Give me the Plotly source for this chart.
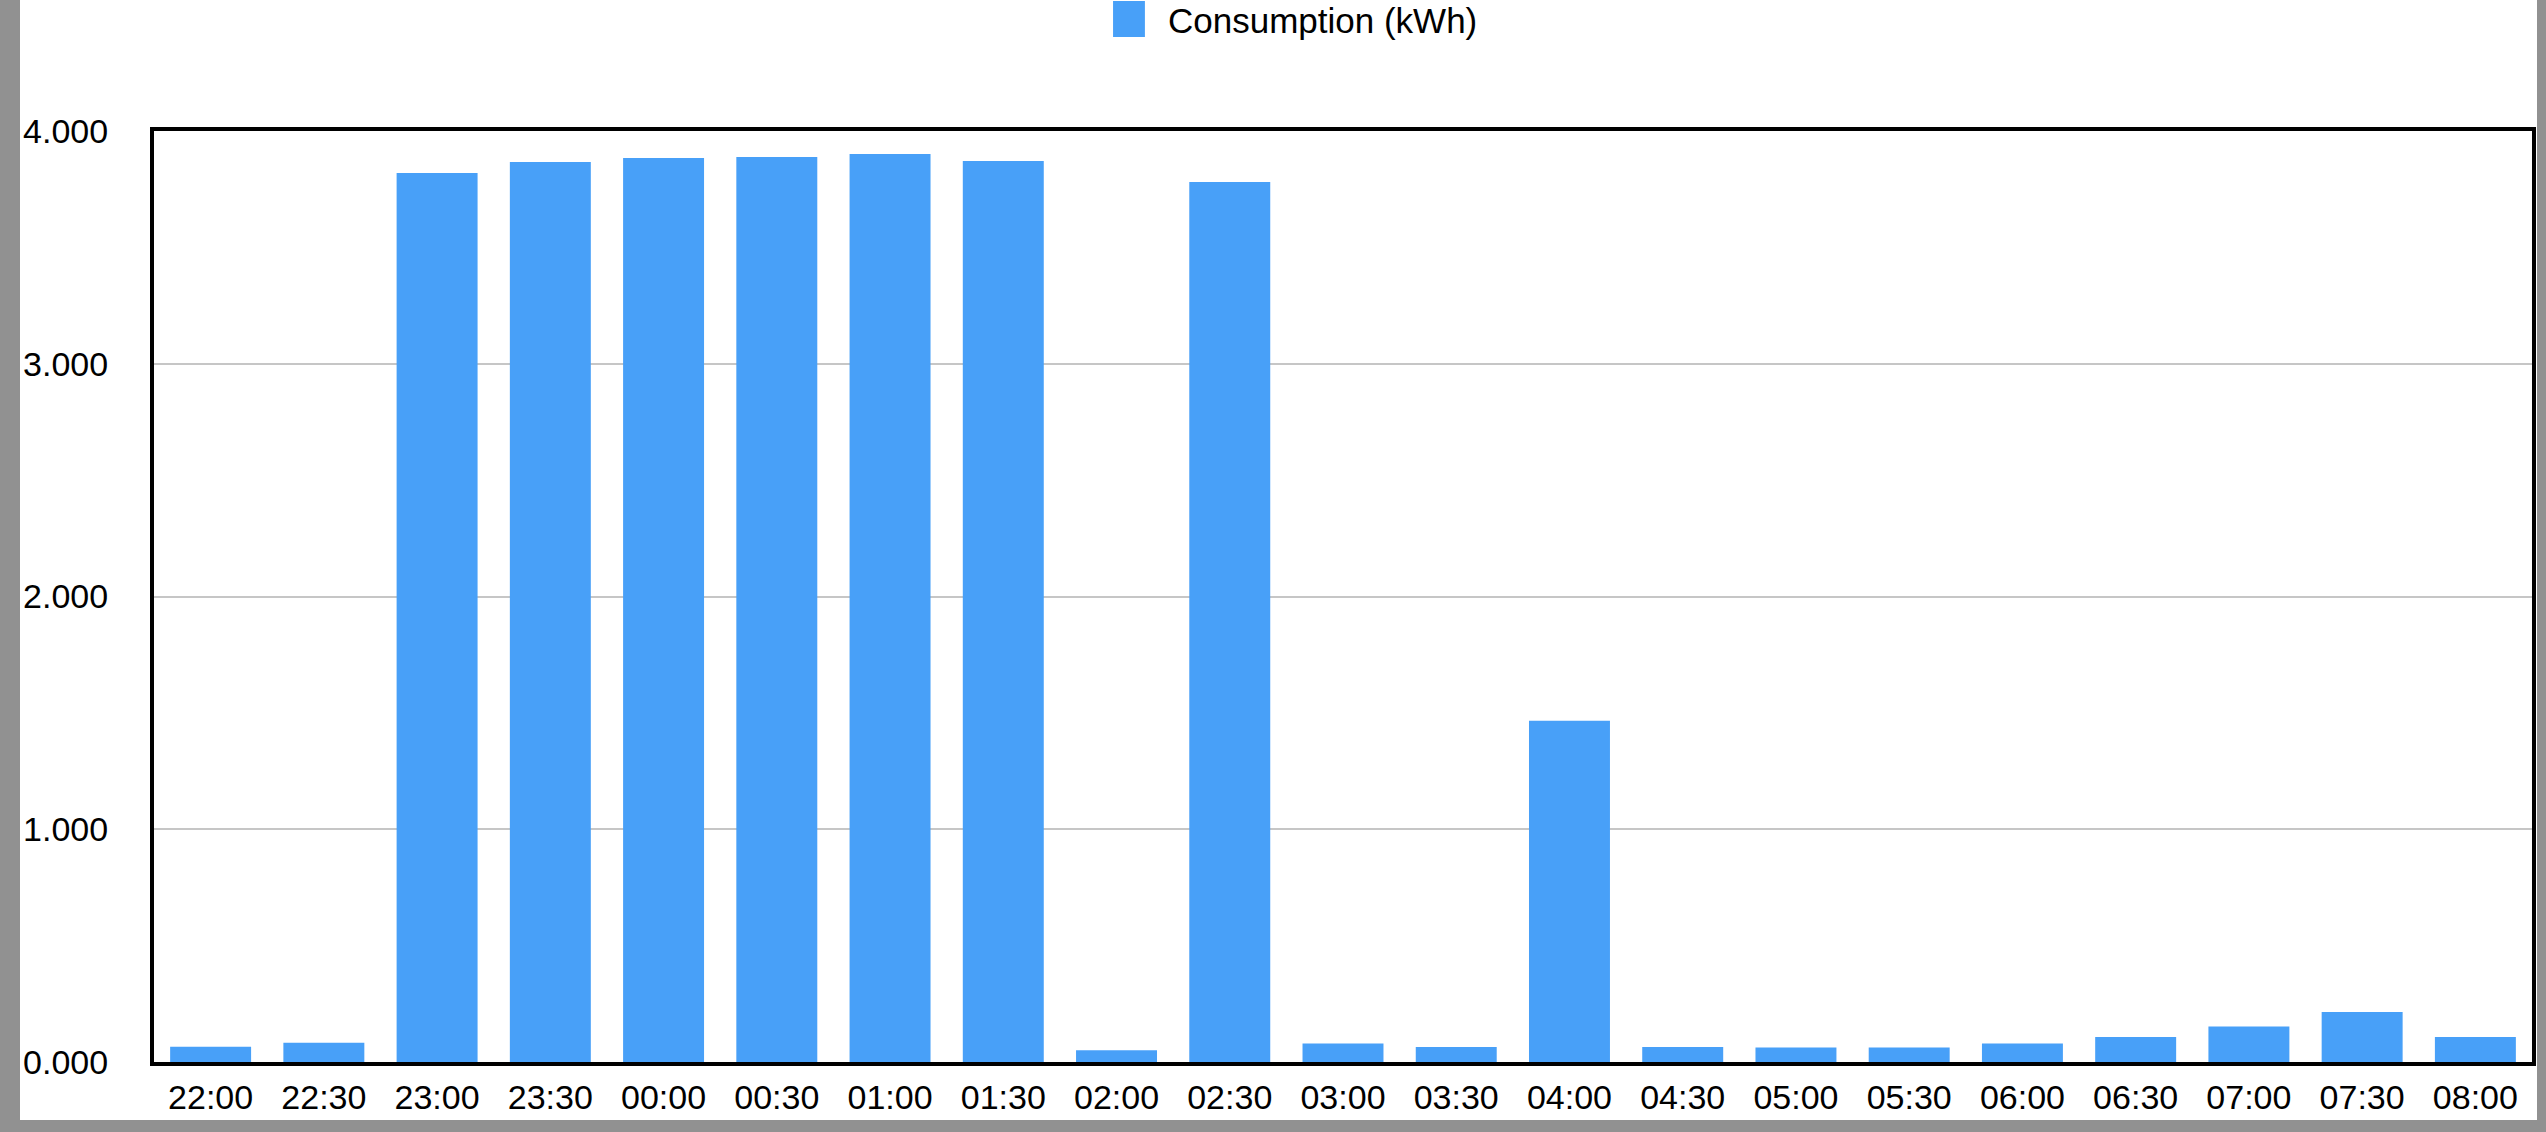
import plotly.graph_objects as go

# half-hourly readings
slots = [
    "22:00", "22:30", "23:00", "23:30", "00:00", "00:30", "01:00",
    "01:30", "02:00", "02:30", "03:00", "03:30", "04:00", "04:30",
    "05:00", "05:30", "06:00", "06:30", "07:00", "07:30", "08:00",
]
consumption = [
    0.065, 0.083, 3.820, 3.867, 3.884, 3.888, 3.901,
    3.871, 0.050, 3.781, 0.080, 0.064, 1.466, 0.064,
    0.062, 0.062, 0.079, 0.107, 0.153, 0.215, 0.107,
]
y_ticks = [0, 1, 2, 3, 4]
series_name = "Consumption (kWh)"

BLUE = "#48a0f8"
FONT = dict(family="Liberation Sans, Arial, Helvetica", size=34, color="black")

fig = go.Figure(go.Bar(
    x=slots,
    y=consumption,
    name=series_name,
    marker=dict(color=BLUE, line_width=0),
    showlegend=False,
))

# legend drawn by hand so the swatch can be as large as in the original
fig.add_shape(type="rect", xref="paper", yref="paper",
              x0=0.4033, x1=0.4167, y0=1.101, y1=1.1396,
              fillcolor=BLUE, line_width=0)
fig.add_annotation(text=series_name, xref="paper", yref="paper",
                   x=0.4255, y=1.1192, xanchor="left", yanchor="middle",
                   showarrow=False, font=dict(FONT, size=35))

fig.update_layout(
    width=2517,
    height=1120,
    margin=dict(l=134, r=5, t=131, b=58),
    paper_bgcolor="white",
    plot_bgcolor="white",
    font=FONT,
    bargap=0.285,
    xaxis=dict(
        type="category",
        automargin=False,
        showgrid=False,
        showline=True, linecolor="black", linewidth=4, mirror=True,
        ticks="", ticklabelstandoff=2,
        tickfont=FONT,
    ),
    yaxis=dict(
        range=[0, 4],
        automargin=False,
        tickvals=y_ticks,
        tickformat=".3f",
        showgrid=True, gridcolor="#c6c6c6", gridwidth=2,
        zeroline=False,
        showline=True, linecolor="black", linewidth=4, mirror=True,
        ticks="", ticklabelstandoff=35,
        tickfont=FONT,
    ),
)

# grey window frame around the chart, as in the screenshot
frame_js = (
    "document.body.style.margin='0 0 0 20px';"
    "document.body.style.background='#919191';"
)
fig.write_html("out.html", post_script=frame_js, config={"displayModeBar": False})
